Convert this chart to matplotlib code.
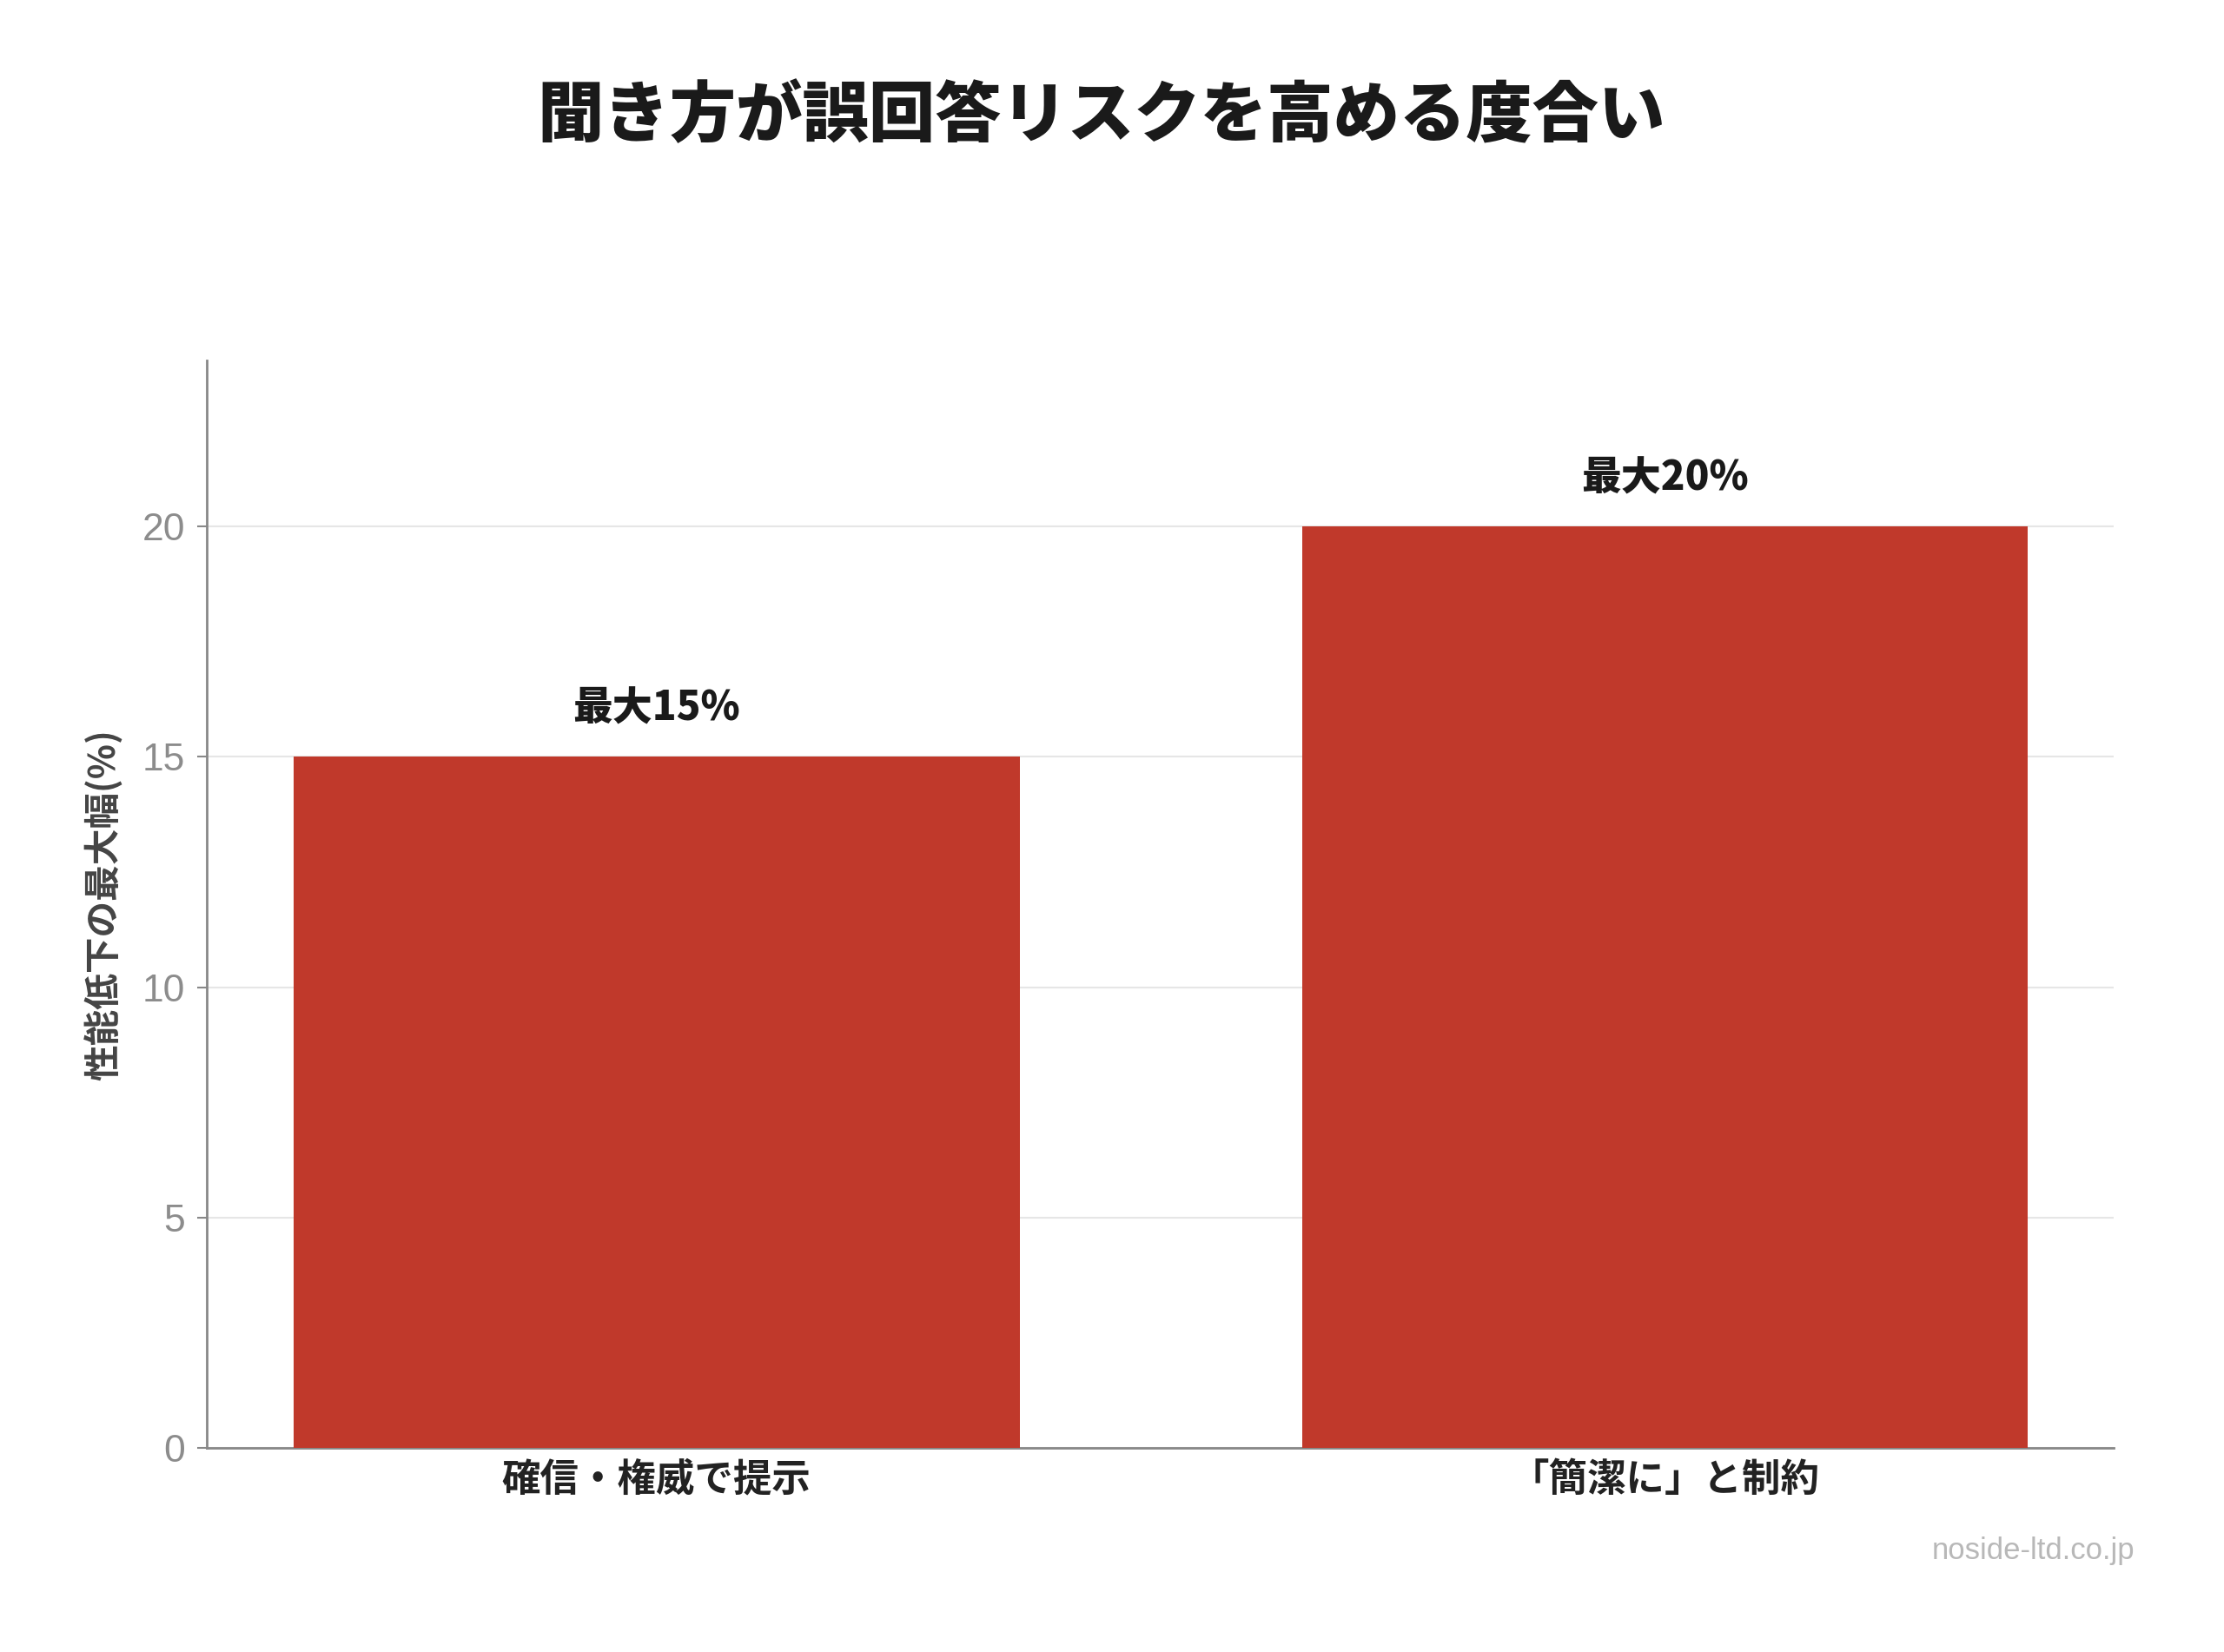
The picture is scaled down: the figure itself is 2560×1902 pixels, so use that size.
import matplotlib
matplotlib.use("Agg")
import matplotlib.pyplot as plt

plt.rcParams['font.family'] = ['Noto Sans CJK JP', 'DejaVu Sans']

categories = ['確信・権威で提示', '「簡潔に」と制約']
values = [15, 20]
bar_labels = ['最大15%', '最大20%']
yticks = [0, 5, 10, 15, 20]

title = '聞き方が誤回答リスクを高める度合い'
ylabel = '性能低下の最大幅(%)'
credit = 'noside-ltd.co.jp'

bar_color = '#C0392B'
latin = ['Liberation Sans', 'DejaVu Sans']

fig = plt.figure(figsize=(25.6, 19.02), dpi=100)
ax = fig.add_axes([0.093, 0.1236, 0.8574, 0.658])

x = range(len(categories))
bars = ax.bar(x, values, width=0.72, color=bar_color, zorder=3)

for b, lab in zip(bars, bar_labels):
    ax.annotate(lab, (b.get_x() + b.get_width() / 2, b.get_height()),
                xytext=(0, 40), textcoords='offset points',
                ha='center', va='center', fontsize=33, fontweight='heavy',
                color='#1a1a1a')

ax.set_xlim(-0.446, 1.445)
ax.set_ylim(0, 23.6)
ax.set_xticks(list(x))
ax.set_xticklabels(categories, fontsize=32, fontweight='bold', color='#222222')
ax.set_yticks(yticks)
ax.set_yticklabels([str(t) for t in yticks], fontsize=32, color='#8c8c8c',
                   family=latin)
ax.tick_params(axis='x', length=0, pad=10)
ax.tick_params(axis='y', length=8, width=1.5, color='#888888', pad=10)

ax.yaxis.grid(True, color='#e6e6e6', linewidth=1.5, zorder=0)
ax.set_axisbelow(True)

for s in ['top', 'right']:
    ax.spines[s].set_visible(False)
for s in ['left', 'bottom']:
    ax.spines[s].set_color('#888888')
    ax.spines[s].set_linewidth(2)

ax.set_ylabel(ylabel, fontsize=30, fontweight='bold', color='#444444')
ax.yaxis.set_label_coords(-0.044, 0.5)

fig.text(0.495, 0.9296, title, ha='center', va='center', fontsize=55,
         fontweight='heavy', color='#1a1a1a')
fig.text(0.960, 0.061, credit, ha='right', va='center', fontsize=25,
         family=latin, color='#b8b8b8')

fig.savefig('out.png', dpi=100)
